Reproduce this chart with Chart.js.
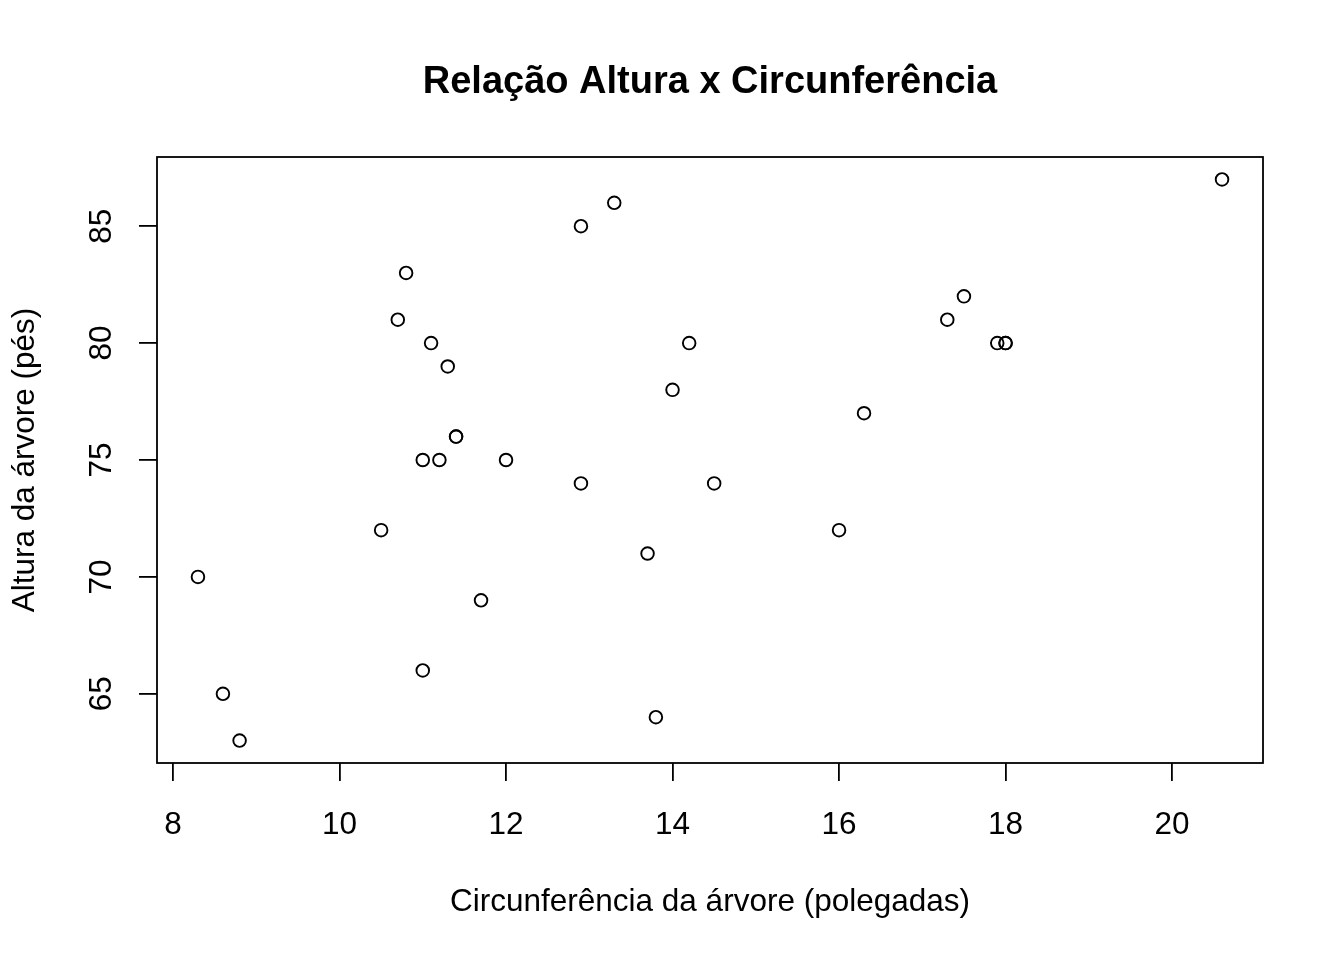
<!DOCTYPE html>
<html>
<head>
<meta charset="utf-8">
<script src="https://cdn.jsdelivr.net/npm/chart.js@4.4.1/dist/chart.umd.min.js"></script>
<style>
  html, body { margin: 0; padding: 0; background: #ffffff; }
  #wrap { width: 1344px; height: 960px; }
</style>
</head>
<body>
<div id="wrap"><canvas id="c" width="1344" height="960"></canvas></div>
<script>
// Data: R "trees" dataset (Girth vs Height)
const girth = [8.3, 8.6, 8.8, 10.5, 10.7, 10.8, 11.0, 11.0, 11.1, 11.2, 11.3, 11.4, 11.4, 11.7, 12.0, 12.9, 12.9, 13.3, 13.7, 13.8, 14.0, 14.2, 14.5, 16.0, 16.3, 17.3, 17.5, 17.9, 18.0, 18.0, 20.6];
const height = [70, 65, 63, 72, 81, 83, 66, 75, 80, 75, 79, 76, 76, 69, 75, 74, 85, 86, 71, 64, 78, 80, 74, 72, 77, 81, 82, 80, 80, 80, 87];
const xTicks = [8, 10, 12, 14, 16, 18, 20];
const yTicks = [65, 70, 75, 80, 85];
const titleText = 'Relação Altura x Circunferência';
const xLabel = 'Circunferência da árvore (polegadas)';
const yLabel = 'Altura da árvore (pés)';

const points = girth.map((g, i) => ({ x: g, y: height[i] }));

// R-style axis range (data range extended by 4%)
function rRange(arr) {
  const mn = Math.min(...arr), mx = Math.max(...arr);
  const d = (mx - mn) * 0.04;
  return [mn - d, mx + d];
}
const [xMin, xMax] = rRange(girth);
const [yMin, yMax] = rRange(height);

const FONT = 'Arial, "Liberation Sans", sans-serif';

const boxPlugin = {
  id: 'boxPlugin',
  afterDraw(chart) {
    const { ctx, chartArea: a } = chart;
    ctx.save();
    ctx.strokeStyle = '#000';
    ctx.lineWidth = 1.8;
    ctx.strokeRect(a.left, a.top, a.right - a.left, a.bottom - a.top);
    ctx.restore();
  }
};

new Chart(document.getElementById('c'), {
  type: 'scatter',
  data: {
    datasets: [{
      data: points,
      pointStyle: 'circle',
      pointRadius: 6.3,
      pointHoverRadius: 6.3,
      backgroundColor: 'rgba(0,0,0,0)',
      borderColor: '#000',
      pointBorderWidth: 1.9
    }]
  },
  options: {
    responsive: false,
    animation: false,
    events: [],
    layout: { padding: { left: 0, right: 81, top: 0, bottom: 0 } },
    plugins: {
      legend: { display: false },
      tooltip: { enabled: false },
      title: {
        display: true,
        text: titleText,
        color: '#000',
        fullSize: false,
        font: { family: FONT, size: 38, weight: 'bold', lineHeight: 1.2 },
        padding: { top: 60, bottom: 51.4 }
      }
    },
    scales: {
      x: {
        type: 'linear',
        min: xMin,
        max: xMax,
        afterBuildTicks(scale) { scale.ticks = xTicks.map(v => ({ value: v })); },
        afterFit(scale) { scale.height = 197; },
        border: { display: false },
        grid: { drawOnChartArea: false, drawTicks: true, tickLength: 18, color: '#000', lineWidth: 1.8 },
        ticks: { color: '#000', font: { family: FONT, size: 31.5 }, padding: 25, maxRotation: 0, minRotation: 0 },
        title: {
          display: true, text: xLabel, color: '#000',
          font: { family: FONT, size: 31.5, lineHeight: 1.2 },
          padding: { top: 0, bottom: 39 }
        }
      },
      y: {
        type: 'linear',
        min: yMin,
        max: yMax,
        afterBuildTicks(scale) { scale.ticks = yTicks.map(v => ({ value: v })); },
        afterFit(scale) { scale.width = 157; },
        border: { display: false },
        grid: { drawOnChartArea: false, drawTicks: true, tickLength: 18, color: '#000', lineWidth: 1.8 },
        ticks: { color: '#000', font: { family: FONT, size: 31.5 }, padding: 19, minRotation: 90, maxRotation: 90, crossAlign: 'center' },
        title: {
          display: true, text: yLabel, color: '#000',
          font: { family: FONT, size: 31.5, lineHeight: 1.2 },
          padding: { top: 6, bottom: 0 }
        }
      }
    }
  },
  plugins: [boxPlugin]
});
</script>
</body>
</html>
